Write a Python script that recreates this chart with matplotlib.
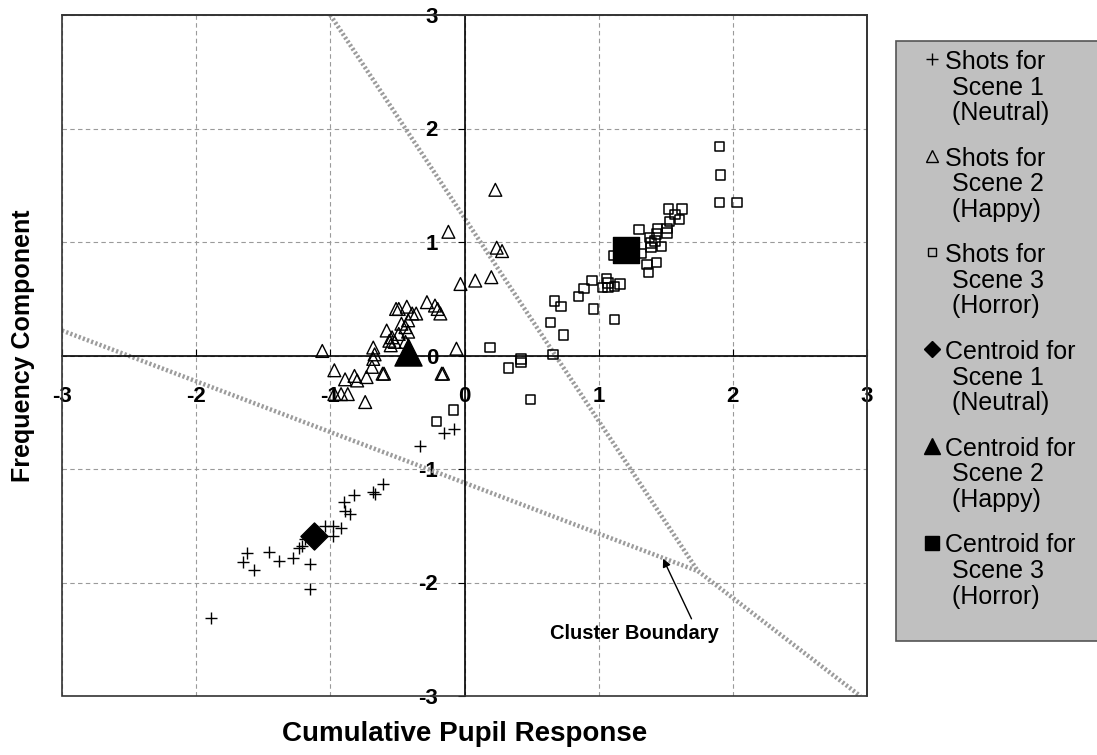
# Shot clusters for three scenes, pupil response vs frequency component
import matplotlib.pyplot as plt
from matplotlib.lines import Line2D
from matplotlib.patches import Rectangle

plt.rcParams['font.family'] = ['Liberation Sans', 'DejaVu Sans']

# shots for scene 1 (neutral)
neutral_x = [-1.89, -1.65, -1.62, -1.57, -1.46, -1.38, -1.28, -1.23, -1.21, -1.19,
             -1.15, -1.15, -1.10, -1.04, -0.98, -0.98, -0.92, -0.90, -0.89, -0.85,
             -0.82, -0.68, -0.67, -0.61, -0.33, -0.15, -0.08]
neutral_y = [-2.31, -1.82, -1.74, -1.89, -1.73, -1.81, -1.78, -1.70, -1.68, -1.62,
             -1.84, -2.06, -1.55, -1.50, -1.50, -1.59, -1.52, -1.29, -1.37, -1.40,
             -1.23, -1.20, -1.22, -1.13, -0.80, -0.68, -0.65]

# shots for scene 2 (happy)
happy_x = [-1.06, -0.97, -0.97, -0.92, -0.87, -0.89, -0.82, -0.80, -0.73, -0.74,
           -0.69, -0.68, -0.68, -0.67, -0.60, -0.61, -0.58, -0.56, -0.55, -0.54,
           -0.52, -0.51, -0.49, -0.47, -0.44, -0.43, -0.42, -0.42, -0.39, -0.36,
           -0.28, -0.22, -0.20, -0.18, -0.17, -0.16, -0.06, -0.03, 0.08, 0.20,
           -0.12, 0.23, 0.24, 0.28, -0.49, -0.44]
happy_y = [0.04, -0.13, -0.34, -0.34, -0.34, -0.21, -0.18, -0.22, -0.19, -0.41,
           -0.10, -0.03, 0.07, 0.01, -0.16, -0.16, 0.22, 0.13, 0.09, 0.16,
           0.12, 0.41, 0.19, 0.28, 0.12, 0.43, 0.21, 0.31, 0.37, 0.37,
           0.47, 0.44, 0.41, 0.37, -0.16, -0.16, 0.06, 0.63, 0.66, 0.69,
           1.09, 1.46, 0.95, 0.92, 0.41, 0.25]

# shots for scene 3 (horror)
horror_x = [1.90, 1.91, 1.90, 2.03, 1.52, 1.62, 1.57, 1.53, 1.60, 1.51,
            1.44, 1.51, 1.43, 1.30, 1.38, 1.39, 1.42, 1.47, 1.39, 1.32,
            1.11, 1.36, 1.43, 1.37, 0.95, 0.89, 0.85, 1.06, 1.03, 1.07,
            1.12, 1.16, 1.07, 0.67, 0.72, 0.96, 1.12, 0.64, 0.74, 0.19,
            0.66, 0.42, 0.42, 0.33, 0.49, -0.08, -0.21]
horror_y = [1.84, 1.59, 1.35, 1.35, 1.29, 1.29, 1.24, 1.18, 1.20, 1.12,
            1.12, 1.08, 1.07, 1.11, 1.04, 0.99, 1.01, 0.96, 0.95, 0.90,
            0.88, 0.80, 0.82, 0.73, 0.66, 0.59, 0.52, 0.68, 0.60, 0.60,
            0.61, 0.63, 0.64, 0.48, 0.43, 0.41, 0.32, 0.29, 0.18, 0.07,
            0.01, -0.03, -0.06, -0.11, -0.39, -0.48, -0.58]

# centroids
centroid_x = [-1.12, -0.42, 1.20]
centroid_y = [-1.59, 0.03, 0.93]

# cluster boundaries (three rays meeting at one point)
bound_a_x = [-1.0, 1.74]
bound_a_y = [3.0, -1.90]
bound_b_x = [-3.0, 1.74]
bound_b_y = [0.22, -1.90]
bound_c_x = [1.74, 2.95]
bound_c_y = [-1.90, -3.0]

ticks = [-3, -2, -1, 0, 1, 2, 3]
tick_labels = ['-3', '-2', '-1', '0', '1', '2', '3']

legend_labels = ['Shots for\n Scene 1\n (Neutral)',
                 'Shots for\n Scene 2\n (Happy)',
                 'Shots for\n Scene 3\n (Horror)',
                 'Centroid for\n Scene 1\n (Neutral)',
                 'Centroid for\n Scene 2\n (Happy)',
                 'Centroid for\n Scene 3\n (Horror)']

W, H = 1097, 755
fig = plt.figure(figsize=(W / 100, H / 100), dpi=100)
ax = fig.add_axes([62 / W, 1 - 696 / H, (867 - 62) / W, (696 - 15) / H])

ax.grid(True, color='#9a9a9a', linestyle=(0, (4, 3)), linewidth=0.8)
ax.set_axisbelow(True)

bstyle = dict(color='#9c9c9c', linewidth=3.2, linestyle=(0, (0.5, 0.5)),
              solid_capstyle='butt', zorder=2)
ax.plot(bound_a_x, bound_a_y, **bstyle)
ax.plot(bound_b_x, bound_b_y, **bstyle)
ax.plot(bound_c_x, bound_c_y, **bstyle)

ax.scatter(neutral_x, neutral_y, marker='+', s=80, c='black', linewidths=1, zorder=3)
ax.scatter(happy_x, happy_y, marker='^', s=85, facecolors='none',
           edgecolors='black', linewidths=1, zorder=3)
ax.scatter(horror_x, horror_y, marker='s', s=45, facecolors='none',
           edgecolors='black', linewidths=1.1, zorder=3)
ax.scatter(centroid_x[0], centroid_y[0], marker='D', s=190, c='black', zorder=4)
ax.scatter(centroid_x[1], centroid_y[1], marker='^', s=380, c='black', zorder=4)
ax.scatter(centroid_x[2], centroid_y[2], marker='s', s=360, c='black', zorder=4)

ax.annotate('Cluster Boundary', xy=(1.48, -1.79), xytext=(1.27, -2.45),
            ha='center', va='center', fontsize=14.5, fontweight='bold',
            arrowprops=dict(arrowstyle='-|>', color='black', lw=1,
                            relpos=(0.85, 1.0), shrinkA=2, shrinkB=0,
                            mutation_scale=12))

ax.set_xlim(-3, 3)
ax.set_ylim(-3, 3)

ax.spines['left'].set_position('zero')
ax.spines['bottom'].set_position('zero')
for s in ['left', 'bottom']:
    ax.spines[s].set_color('black')
    ax.spines[s].set_linewidth(1.2)
for s in ['top', 'right']:
    ax.spines[s].set_color('#333333')
    ax.spines[s].set_linewidth(1.2)
ax.add_patch(Rectangle((0, 0), 1, 1, transform=ax.transAxes, fill=False,
                       edgecolor='#333333', linewidth=1.2, zorder=5, clip_on=False))

ax.set_xticks(ticks)
ax.set_yticks(ticks)
ax.set_xticklabels(tick_labels)
ax.set_yticklabels(tick_labels)
ax.tick_params(axis='x', direction='in', length=5, pad=22, labelsize=16)
ax.tick_params(axis='y', direction='out', length=5, pad=14, labelsize=16)
for lab in ax.get_xticklabels() + ax.get_yticklabels():
    lab.set_fontweight('bold')

ax.set_xlabel('Cumulative Pupil Response', fontsize=20, fontweight='bold')
ax.set_ylabel('Frequency Component', fontsize=18, fontweight='bold')
ax.xaxis.set_label_coords(0.5, -0.036)
ax.yaxis.set_label_coords(-0.033, 0.515)

# legend panel
fig.patches.append(Rectangle((896 / W, 1 - 641 / H), (W - 896 + 5) / W, 600 / H,
                             transform=fig.transFigure, facecolor='#c0c0c0',
                             edgecolor='#555555', linewidth=1.2))
leg_markers = [('+', 9, 'none'), ('^', 8, 'none'), ('s', 6, 'none'),
               ('D', 8, 'black'), ('^', 12, 'black'), ('s', 10, 'black')]
for i, (lab, (m, ms, fc)) in enumerate(zip(legend_labels, leg_markers)):
    yc = 59 + i * 96.7
    fig.add_artist(Line2D([932 / W], [1 - yc / H], marker=m, markersize=ms,
                          markerfacecolor=fc, markeredgecolor='black',
                          markeredgewidth=1, linestyle='none',
                          transform=fig.transFigure))
    fig.text(945 / W, 1 - (yc - 9) / H, lab, fontsize=18, va='top', ha='left',
             linespacing=1.08)

fig.savefig('out.png', dpi=100)
